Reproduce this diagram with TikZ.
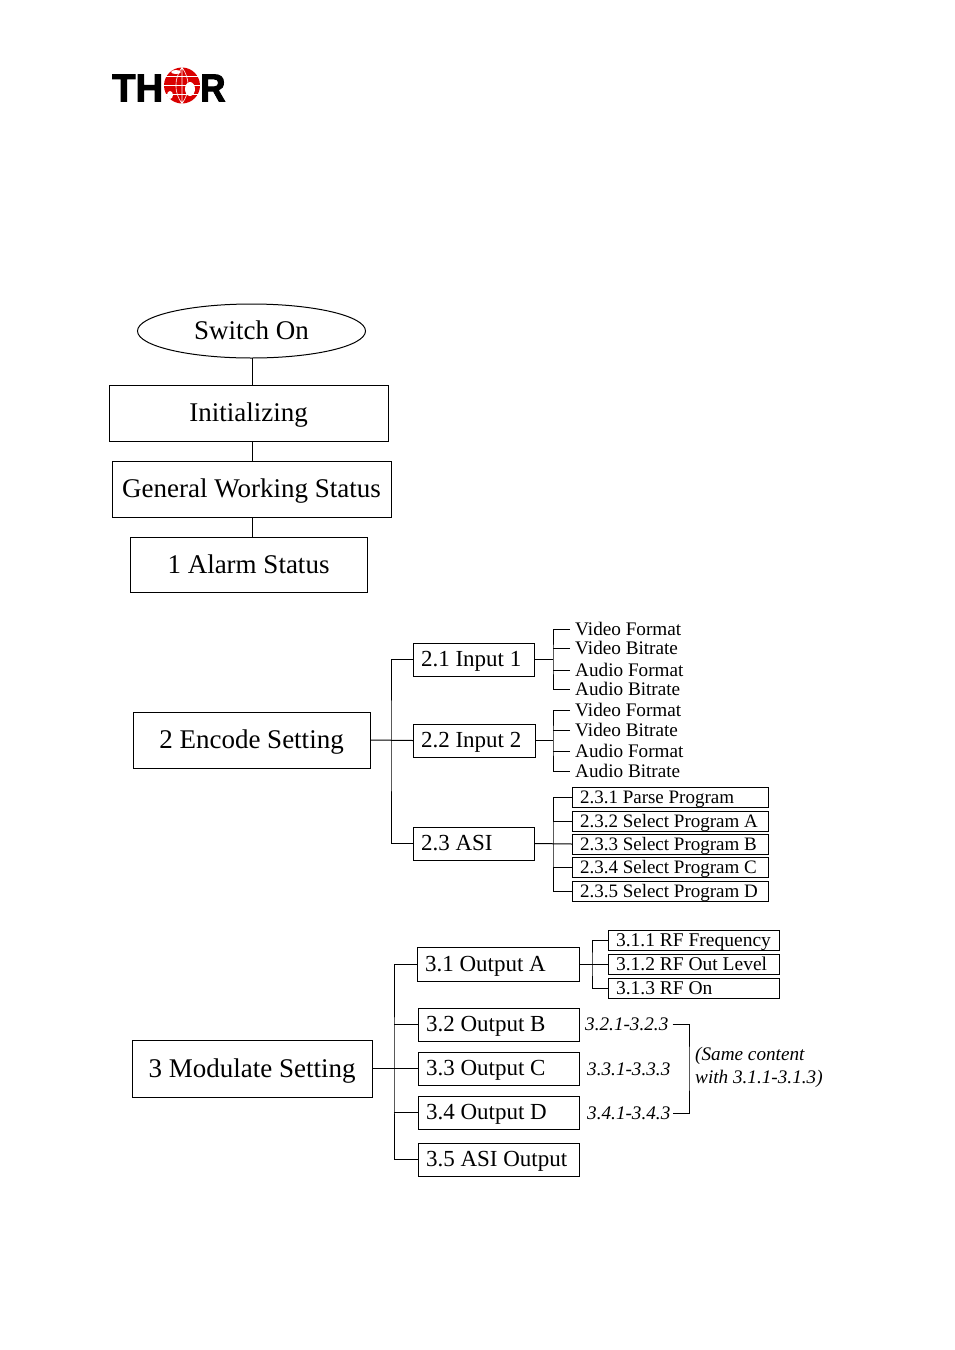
\documentclass[tikz,border=0pt]{standalone}
\usepackage{fontspec}
\setmainfont{Liberation Serif}
\newfontfamily\logofont[FakeBold=2.5]{Liberation Sans Bold}
\usetikzlibrary{shapes.geometric}
\newcommand{\hugesz}{\fontsize{27}{28}\selectfont}
\newcommand{\bigsz}{\fontsize{23}{26}\selectfont}
\newcommand{\midsz}{\fontsize{19}{20}\selectfont}
\newcommand{\rfsz}{\fontsize{19.5}{20}\selectfont}
\newcommand{\leafsz}{\fontsize{19.2}{20}\selectfont}
\newcommand{\logosz}{\fontsize{39}{39}\selectfont\logofont}
\tikzset{
    box/.style = {draw, line width=1pt, inner sep=0pt, anchor=west},
    topbox/.style = {box, anchor=center, align=flush center, font=\hugesz, text height=23pt, text depth=5.5pt},
    itembox/.style = {box, font=\bigsz, inner xsep=7.5pt, align=flush left, minimum height=33pt, text height=19pt, text depth=4.3pt},
    leafbox/.style = {box, font=\midsz, inner xsep=7.5pt, align=flush left, minimum height=20pt, text height=15pt, text depth=2.8pt},
    leaf/.style = {anchor=west, inner xsep=5pt, inner ysep=0pt, font=\leafsz},
    note/.style = {anchor=west, inner sep=0pt, font=\leafsz\itshape},
    wire/.style = {line width=1pt}
}
\begin{document}
\begin{tikzpicture}[x = 1pt, y = -1pt]
    \useasboundingbox (0,0) rectangle (955,1350);
    % logo
    \node[anchor=west, inner sep=0pt, font=\logosz, xscale=0.98] (logoth) at (112,88) {TH};
    \node[anchor=west, inner sep=0pt, font=\logosz, xscale=0.9] (logor) at (200,88) {R};
    \node[circle, fill=red!85!black, minimum size=36pt, inner sep=0pt] (globe) at (182,85.5) {};
    \fill[white] (190,89) ellipse (5pt and 7pt) (170,95) ellipse (3pt and 4pt) (176,72) ellipse (5pt and 2pt);
    \draw[white, line width=0.6pt] (globe.north) to[bend left=35] (globe.south) (globe.north) to[bend right=35] (globe.south) (globe.north) -- (globe.south) (globe.west) -- (globe.east) (166,76.5) -- (198,76.5) (166,94.5) -- (198,94.5);
    % top column
    \node[topbox, shape=ellipse, minimum width=228pt, minimum height=54pt] (switchon) at (251.5,331) {Switch On};
    \node[topbox, text width=279pt, minimum height=56pt] (init) at (248.5,413) {Initializing};
    \node[topbox, text width=279pt, minimum height=56pt] (general) at (251.5,489) {General Working Status};
    \node[topbox, text width=237pt, minimum height=55pt] (alarm) at (248.5,564.5) {1 Alarm Status};
    \draw[wire] (252.5,358) -- (252.5,385);
    \draw[wire] (252.5,441) -- (252.5,461);
    \draw[wire] (252.5,517) -- (252.5,537);
    % encode setting
    \node[topbox, text width=237pt, minimum height=56pt] (encode) at (251.5,740) {2 Encode Setting};
    \node[itembox, text width=105.5pt] (inputa) at (413,659.5) {2.1 Input 1};
    \node[itembox, text width=106.5pt] (inputb) at (413,740.5) {2.2 Input 2};
    \node[itembox, text width=105.5pt] (asi) at (413,843.5) {2.3 ASI};
    \coordinate (encspine) at (391,740.5);
    \draw[wire] (encode.east) -- (inputb.west);
    \draw[wire] (inputa.west) -| (encspine) |- (asi.west);
    \node[leaf] (vfa) at (570,629) {Video Format};
    \node[leaf] (vba) at (570,648) {Video Bitrate};
    \node[leaf] (afa) at (570,670) {Audio Format};
    \node[leaf] (aba) at (570,689) {Audio Bitrate};
    \coordinate (spinea) at (553,659.5);
    \draw[wire] (inputa.east) -- (spinea);
    \draw[wire] (vfa.west) -| (spinea) |- (aba.west);
    \draw[wire] (vba.west) -- (vba.west -| spinea);
    \draw[wire] (afa.west) -- (afa.west -| spinea);
    \node[leaf] (vfb) at (570,710) {Video Format};
    \node[leaf] (vbb) at (570,730) {Video Bitrate};
    \node[leaf] (afb) at (570,751) {Audio Format};
    \node[leaf] (abb) at (570,771) {Audio Bitrate};
    \coordinate (spineb) at (553,740.5);
    \draw[wire] (inputb.east) -- (spineb);
    \draw[wire] (vfb.west) -| (spineb) |- (abb.west);
    \draw[wire] (vbb.west) -- (vbb.west -| spineb);
    \draw[wire] (afb.west) -- (afb.west -| spineb);
    \node[leafbox, text width=181pt] (parse) at (572,797) {2.3.1 Parse Program};
    \node[leafbox, text width=181pt] (proga) at (572,821) {2.3.2 Select Program A};
    \node[leafbox, text width=181pt] (progb) at (572,844) {2.3.3 Select Program B};
    \node[leafbox, text width=181pt] (progc) at (572,867) {2.3.4 Select Program C};
    \node[leafbox, text width=181pt] (progd) at (572,891) {2.3.5 Select Program D};
    \coordinate (spinec) at (553,844);
    \draw[wire] (asi.east) -- (progb.west);
    \draw[wire] (parse.west) -| (spinec) |- (progd.west);
    \draw[wire] (proga.west) -- (proga.west -| spinec);
    \draw[wire] (progc.west) -- (progc.west -| spinec);
    % modulate setting
    \node[topbox, text width=240pt, minimum height=57pt] (modulate) at (252,1068.5) {3 Modulate Setting};
    \node[itembox, text width=146.5pt, minimum height=34pt] (outa) at (417,964) {3.1 Output A};
    \node[itembox, text width=145.5pt] (outb) at (418,1024.5) {3.2 Output B};
    \node[itembox, text width=145.5pt] (outc) at (418,1068.5) {3.3 Output C};
    \node[itembox, text width=145.5pt] (outd) at (418,1112.5) {3.4 Output D};
    \node[itembox, text width=145.5pt] (outasi) at (418,1159.5) {3.5 ASI Output};
    \coordinate (modspine) at (394,1068.5);
    \draw[wire] (modulate.east) -- (outc.west);
    \draw[wire] (outa.west) -| (modspine) |- (outasi.west);
    \draw[wire] (outb.west) -- (outb.west -| modspine);
    \draw[wire] (outd.west) -- (outd.west -| modspine);
    \node[leafbox, font=\rfsz, text width=156pt] (rffreq) at (608,940) {3.1.1 RF Frequency};
    \node[leafbox, font=\rfsz, text width=156pt] (rflevel) at (608,964) {3.1.2 RF Out Level};
    \node[leafbox, font=\rfsz, text width=156pt] (rfon) at (608,988) {3.1.3 RF On};
    \coordinate (rfspine) at (592,964);
    \draw[wire] (outa.east) -- (rflevel.west);
    \draw[wire] (rffreq.west) -| (rfspine) |- (rfon.west);
    \node[note] (rangeb) at (585,1024) {3.2.1-3.2.3};
    \node[note] (rangec) at (587,1069) {3.3.1-3.3.3};
    \node[note] (ranged) at (587,1113) {3.4.1-3.4.3};
    \node[note] (samea) at (695,1056) {(Same content};
    \node[note] (sameb) at (695,1079) {with 3.1.1-3.1.3)};
    \coordinate (bracket) at (689,1068.5);
    \draw[wire] ([xshift=4pt]rangeb.east) -| (bracket) |- ([xshift=2pt]ranged.east);
\end{tikzpicture}
\end{document}
